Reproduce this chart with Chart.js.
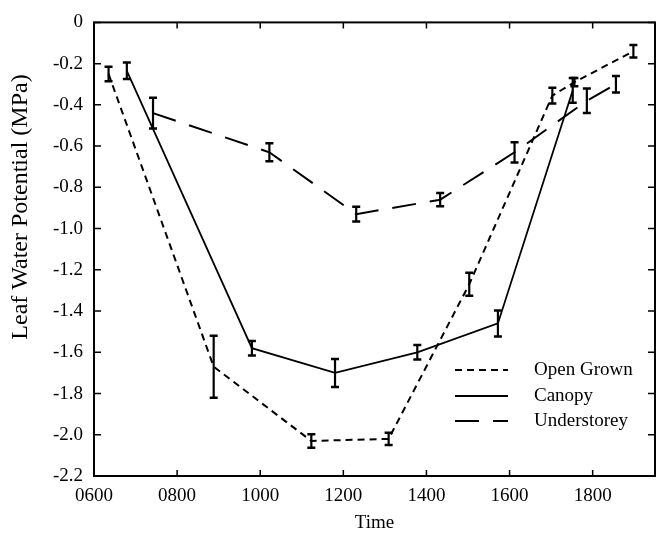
<!DOCTYPE html>
<html>
<head>
<meta charset="utf-8">
<title>Leaf Water Potential</title>
<script src="https://cdn.jsdelivr.net/npm/chart.js@4.4.1/dist/chart.umd.min.js"></script>
<style>
  html, body { margin: 0; padding: 0; background: #fff; }
  #chart { display: block; }
</style>
</head>
<body>
<canvas id="chart" width="660" height="534"></canvas>
<script>
// tick labels
const xTicks = [600, 800, 1000, 1200, 1400, 1600, 1800];
const yTicks = [0, -0.2, -0.4, -0.6, -0.8, -1.0, -1.2, -1.4, -1.6, -1.8, -2.0, -2.2];

// Open Grown
const openTime = [635, 888, 1123, 1309, 1503, 1703, 1756, 1898];
const openLwp  = [-0.25, -1.67, -2.03, -2.02, -1.27, -0.355, -0.29, -0.14];
const openErr  = [0.035, 0.15, 0.033, 0.03, 0.056, 0.038, 0.02, 0.03];

// Canopy
const canopyTime = [679, 980, 1180, 1378, 1572, 1752];
const canopyLwp  = [-0.235, -1.58, -1.70, -1.60, -1.46, -0.33];
const canopyErr  = [0.04, 0.035, 0.068, 0.035, 0.063, 0.06];

// Understorey
const underTime = [742, 1022, 1231, 1433, 1612, 1786, 1856];
const underLwp  = [-0.44, -0.63, -0.93, -0.86, -0.63, -0.38, -0.30];
const underErr  = [0.074, 0.044, 0.036, 0.032, 0.049, 0.06, 0.04];

const seriesNames = ["Open Grown", "Canopy", "Understorey"];
const yTitle = "Leaf Water Potential (MPa)";
const xTitle = "Time";

const serif = "'Liberation Serif', 'Times New Roman', serif";

function toPoints(xs, ys) {
  return xs.map((x, i) => ({ x: x, y: ys[i] }));
}

// vertical error bars with caps
const errorBars = {
  id: "errorBars",
  afterDatasetsDraw(chart) {
    const ctx = chart.ctx;
    const xs = chart.scales.x, ys = chart.scales.y;
    ctx.save();
    ctx.strokeStyle = "#000";
    chart.data.datasets.forEach(ds => {
      ds.data.forEach((p, i) => {
        const e = ds.errors[i];
        const px = xs.getPixelForValue(p.x);
        const top = ys.getPixelForValue(p.y + e);
        const bot = ys.getPixelForValue(p.y - e);
        ctx.lineWidth = 2.2;
        ctx.beginPath();
        ctx.moveTo(px, top);
        ctx.lineTo(px, bot);
        ctx.stroke();
        ctx.lineWidth = 2.5;
        ctx.beginPath();
        ctx.moveTo(px - 4, top);
        ctx.lineTo(px + 4, top);
        ctx.moveTo(px - 4, bot);
        ctx.lineTo(px + 4, bot);
        ctx.stroke();
      });
    });
    ctx.restore();
  }
};

// box round the plot with ticks pointing inward, plus y title and legend
const frame = {
  id: "frame",
  afterDraw(chart) {
    const ctx = chart.ctx;
    const { left, right, top, bottom } = chart.chartArea;
    const xs = chart.scales.x, ys = chart.scales.y;
    ctx.save();
    ctx.strokeStyle = "#000";
    ctx.lineWidth = 2;
    ctx.strokeRect(left, top, right - left, bottom - top);

    ctx.lineWidth = 1.5;
    ctx.beginPath();
    xs.ticks.forEach(t => {
      const px = xs.getPixelForValue(t.value);
      ctx.moveTo(px, bottom);
      ctx.lineTo(px, bottom - 6);
      ctx.moveTo(px, top);
      ctx.lineTo(px, top + 6);
    });
    ys.ticks.forEach(t => {
      const py = ys.getPixelForValue(t.value);
      ctx.moveTo(left, py);
      ctx.lineTo(left + 7, py);
      ctx.moveTo(right, py);
      ctx.lineTo(right - 7, py);
    });
    ctx.stroke();

    // y axis title
    ctx.fillStyle = "#000";
    ctx.font = "24px " + serif;
    ctx.textAlign = "center";
    ctx.textBaseline = "middle";
    ctx.translate(21, 207);
    ctx.rotate(-Math.PI / 2);
    ctx.fillText(yTitle, 0, 0);
    ctx.restore();

    // legend inside the plot, lower right
    ctx.save();
    ctx.font = "19px " + serif;
    ctx.fillStyle = "#000";
    ctx.textAlign = "left";
    ctx.textBaseline = "middle";
    const rows = [bottom - 106, bottom - 80, bottom - 55];
    chart.data.datasets.forEach((ds, i) => {
      ctx.strokeStyle = "#000";
      ctx.lineWidth = ds.borderWidth;
      ctx.setLineDash(ds.borderDash || []);
      ctx.beginPath();
      ctx.moveTo(right - 200, rows[i]);
      ctx.lineTo(right - 147, rows[i]);
      ctx.stroke();
      ctx.setLineDash([]);
      ctx.fillText(ds.label, right - 121, rows[i]);
    });
    ctx.restore();
  }
};

new Chart(document.getElementById("chart").getContext("2d"), {
  type: "scatter",
  data: {
    datasets: [
      {
        label: seriesNames[0],
        data: toPoints(openTime, openLwp),
        errors: openErr,
        showLine: true,
        borderColor: "#000",
        borderWidth: 2,
        borderDash: [7, 5],
        pointRadius: 0,
        tension: 0
      },
      {
        label: seriesNames[1],
        data: toPoints(canopyTime, canopyLwp),
        errors: canopyErr,
        showLine: true,
        borderColor: "#000",
        borderWidth: 1.8,
        pointRadius: 0,
        tension: 0
      },
      {
        label: seriesNames[2],
        data: toPoints(underTime, underLwp),
        errors: underErr,
        showLine: true,
        borderColor: "#000",
        borderWidth: 2,
        borderDash: [24, 14],
        pointRadius: 0,
        tension: 0
      }
    ]
  },
  options: {
    responsive: false,
    animation: false,
    devicePixelRatio: 1,
    layout: { padding: { top: 13, right: 5, left: 0, bottom: 0 } },
    plugins: {
      legend: { display: false },
      tooltip: { enabled: false }
    },
    scales: {
      x: {
        type: "linear",
        min: 600,
        max: 1950,
        afterBuildTicks: s => { s.ticks = xTicks.map(v => ({ value: v })); },
        afterFit: s => { s.height = 58; },
        grid: { display: false, drawTicks: false, tickLength: 0 },
        border: { display: false },
        ticks: {
          autoSkip: false,
          maxRotation: 0,
          padding: 9,
          color: "#000",
          font: { family: serif, size: 19 },
          callback: v => String(v).padStart(4, "0")
        },
        title: {
          display: true,
          text: xTitle,
          color: "#000",
          font: { family: serif, size: 19 },
          padding: { top: 0, bottom: 0 }
        }
      },
      y: {
        min: -2.2,
        max: 0,
        afterBuildTicks: s => { s.ticks = yTicks.map(v => ({ value: v })); },
        afterFit: s => { s.width = 94; },
        grid: { display: false, drawTicks: false, tickLength: 0 },
        border: { display: false },
        ticks: {
          padding: 11,
          color: "#000",
          font: { family: serif, size: 19 },
          callback: v => (v === 0 ? "0" : v.toFixed(1))
        }
      }
    }
  },
  plugins: [errorBars, frame]
});
</script>
</body>
</html>
